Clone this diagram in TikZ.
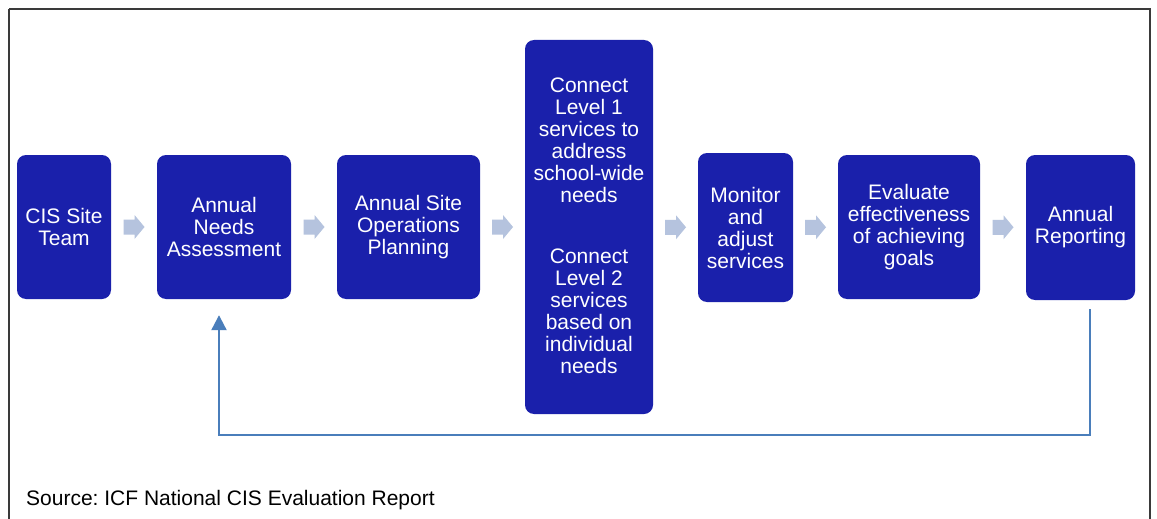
\documentclass[tikz,border=0pt]{standalone}
\usepackage{fontspec}
\setmainfont{Liberation Sans}
\usetikzlibrary{calc,arrows.meta}
\definecolor{boxblue}{HTML}{1A20AB}
\definecolor{chevgrey}{HTML}{B5C3DE}
\definecolor{loopblue}{HTML}{4A7EBB}
\definecolor{framegrey}{HTML}{3A3A3A}
\tikzset{
  stepbox/.style={fill=boxblue, draw=none, rounded corners=9pt, text=white,
    align=center, inner sep=0pt, font=\fontsize{21}{22}\selectfont},
  steptext/.style={text=white, align=center, inner sep=0pt,
    font=\fontsize{21}{22}\selectfont},
  chev/.style={fill=chevgrey, draw=none},
  loopline/.style={draw=loopblue, line width=2.2pt,
    -{Triangle[width=15pt,length=15pt]}},
  srctext/.style={font=\fontsize{21}{22}\selectfont, anchor=base west, inner sep=0pt}
}
% block arrow centred between two neighbouring boxes
\newcommand\chevbetween[2]{%
  \path[chev] ($(#1.east)!.5!(#2.west)$) ++(-10.5,-7.5)
    -- ++(11,0) -- ++(0,-4.5) -- ++(10,12) -- ++(-10,12) -- ++(0,-4.5)
    -- ++(-11,0) -- cycle;}
\begin{document}
\frenchspacing
\begin{tikzpicture}[x=1pt,y=-1pt]
\useasboundingbox (0,0) rectangle (1157,519);
\fill[white] (0,0) rectangle (1157,519);
\draw[framegrey, line width=1.4pt] (9,9) -- (1150,9) -- (1150,530);
\draw[framegrey, line width=1.4pt] (9,9) -- (9,530);

\node[stepbox, minimum width=94pt, minimum height=144pt] (n1) at (64,227)
  {CIS Site\\Team};
\node[stepbox, minimum width=134pt, minimum height=144pt] (n2) at (224,227)
  {Annual\\Needs\\Assessment};
\node[stepbox, minimum width=143pt, minimum height=144pt] (n3) at (408.5,227)
  {Annual Site\\Operations\\Planning};
\node[stepbox, minimum width=128pt, minimum height=374pt] (n4) at (589,227) {};
\node[steptext] (n4a) at (589,140.5)
  {Connect\\Level 1\\services to\\address\\school-wide\\needs};
\node[steptext] (n4b) at (589,311.5)
  {Connect\\Level 2\\services\\based on\\individual\\needs};
\node[stepbox, minimum width=95pt, minimum height=149pt] (n5) at (745.5,227.5)
  {Monitor\\and\\adjust\\services};
\node[stepbox, minimum width=142pt, minimum height=144pt] (n6) at (909,227)
  {Evaluate\\effectiveness\\of achieving\\goals};
\node[stepbox, minimum width=109pt, minimum height=145pt] (n7) at (1080.5,227.5)
  {Annual\\Reporting};

\chevbetween{n1}{n2}
\chevbetween{n2}{n3}
\chevbetween{n3}{n4}
\chevbetween{n4}{n5}
\chevbetween{n5}{n6}
\chevbetween{n6}{n7}

% feedback loop from reporting back to the needs assessment
\draw[loopline] ([shift={(9.5,9)}]n7.south) |- ([shift={(-5,136)}]n2.south)
  -- ([shift={(-5,16)}]n2.south);

\node[srctext] (src) at (26,505) {Source: ICF National CIS Evaluation Report};
\end{tikzpicture}
\end{document}
